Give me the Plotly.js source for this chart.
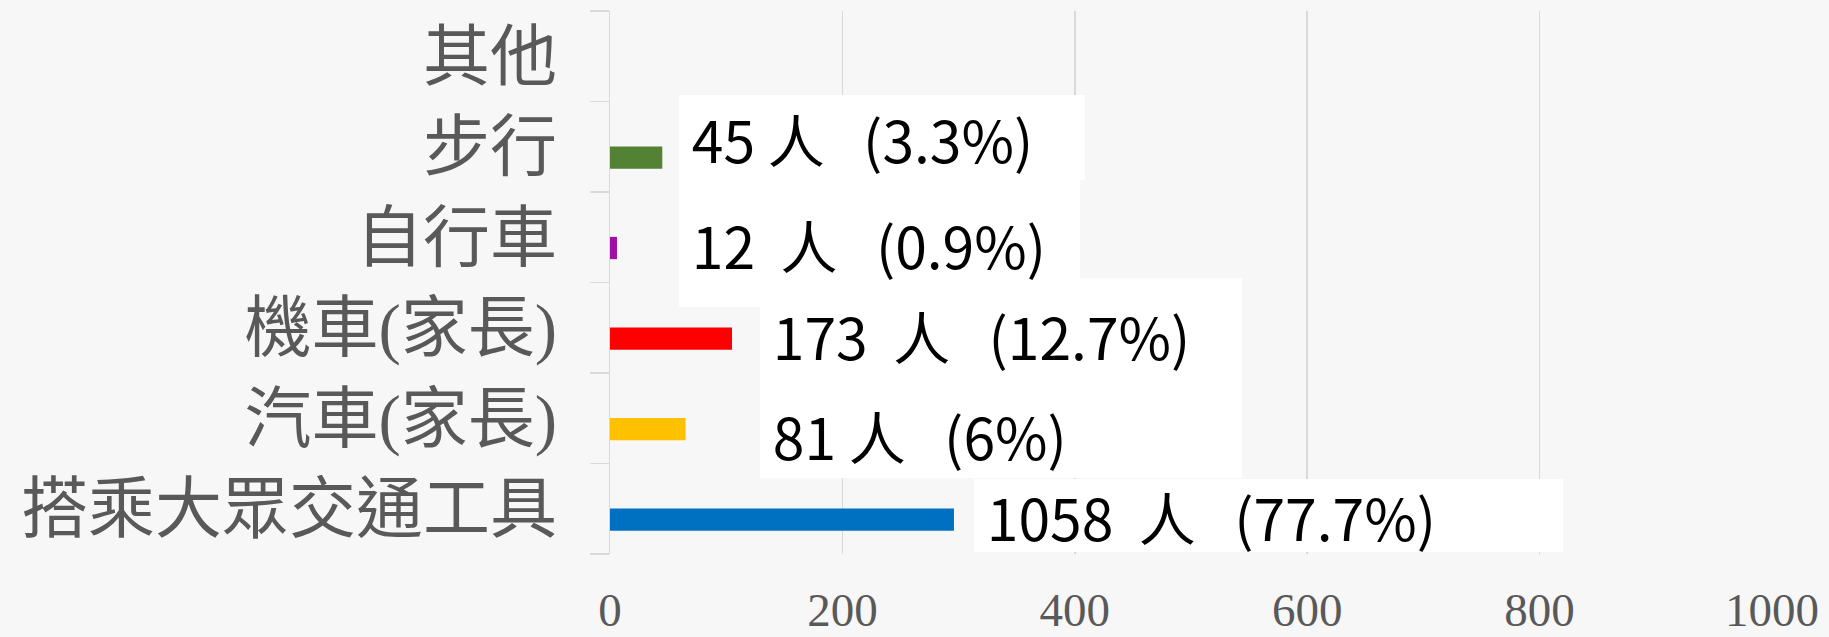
<!DOCTYPE html>
<html>
<head>
<meta charset="utf-8">
<script src="https://cdn.plot.ly/plotly-3.0.1.min.js"></script>
<style>
  html, body { margin: 0; padding: 0; background: #f7f7f7; }
  #chart { width: 1829px; height: 637px; }
</style>
</head>
<body>
<div id="chart"></div>
<script>
// ---- data (bottom category first) ----
const categories = ['搭乘大眾交通工具', '汽車(家長)', '機車(家長)', '自行車', '步行', '其他'];
// bar lengths as drawn on the axis
const barLength = [296, 65, 105, 6, 45, 0];
// numbers printed in the data labels
const peopleCount = [1058, 81, 173, 12, 45, null];
const percentText = ['77.7%', '6%', '12.7%', '0.9%', '3.3%', null];
const xTickValues = [0, 200, 400, 600, 800, 1000];

// ---- styles ----
const barColors = ['#0070C0', '#FFC000', '#FF0000', '#A10DA7', '#548235', '#7F7F7F'];
const countGap = [2, 1, 2, 2, 1, 1];          // spaces between number and 人
const labelLeft = [313.3, 129.1, 129.1, 59.4, 59.4, null];   // left edge of label box (axis units)
const labelShiftY = [-7.2, -17, -7.7, -5.8, 9, 0];            // px, positive = up
const labelBoxW = [589, 482, 482, 401, 406, 0];
const labelBoxH = [73, 86, 114, 127, 85, 0];

const NB = '\u00a0';
const annotations = [];
for (let i = 0; i < categories.length; i++) {
  if (peopleCount[i] == null) continue;
  const t = NB + peopleCount[i] + NB.repeat(countGap[i]) + '人' + NB.repeat(3) + '(' + percentText[i] + ')';
  annotations.push({
    x: labelLeft[i], y: categories[i], xref: 'x', yref: 'y',
    xanchor: 'left', yanchor: 'middle', yshift: labelShiftY[i],
    text: t, showarrow: false,
    width: labelBoxW[i], height: labelBoxH[i],
    align: 'left', valign: 'middle',
    bgcolor: '#ffffff', borderpad: 0, borderwidth: 0,
    font: { family: 'Noto Sans CJK TC, Noto Sans, sans-serif', size: 57, color: '#000000' }
  });
}

const trace = {
  type: 'bar', orientation: 'h',
  x: barLength, y: categories,
  marker: { color: barColors },
  width: 0.246, offset: -0.242,
  hoverinfo: 'none'
};

const layout = {
  width: 1829, height: 637,
  margin: { l: 610, r: 57, t: 11, b: 83, pad: 0 },
  paper_bgcolor: '#f7f7f7', plot_bgcolor: '#f7f7f7',
  showlegend: false,
  xaxis: {
    range: [0, 1000], tickvals: xTickValues, ticktext: xTickValues.map(String),
    showgrid: true, gridcolor: '#d9d9d9', gridwidth: 1.5,
    zeroline: false, showline: false, ticks: '',
    ticklabelstandoff: 24,
    tickfont: { family: 'Liberation Serif, serif', size: 47, color: '#595959' },
    fixedrange: true
  },
  yaxis: {
    type: 'category', categoryorder: 'array', categoryarray: categories,
    range: [-0.5, 5.5], tickson: 'boundaries',
    ticks: 'outside', ticklen: 19, tickcolor: '#d9d9d9', tickwidth: 1.5,
    showline: true, linecolor: '#d9d9d9', linewidth: 1.5,
    showgrid: false, zeroline: false,
    ticklabelstandoff: 38,
    tickfont: { family: 'Liberation Serif, Noto Sans CJK TC, serif', size: 67, color: '#595959' },
    fixedrange: true
  },
  annotations: annotations
};

Plotly.newPlot('chart', [trace], layout, { staticPlot: true, displayModeBar: false });
</script>
</body>
</html>
